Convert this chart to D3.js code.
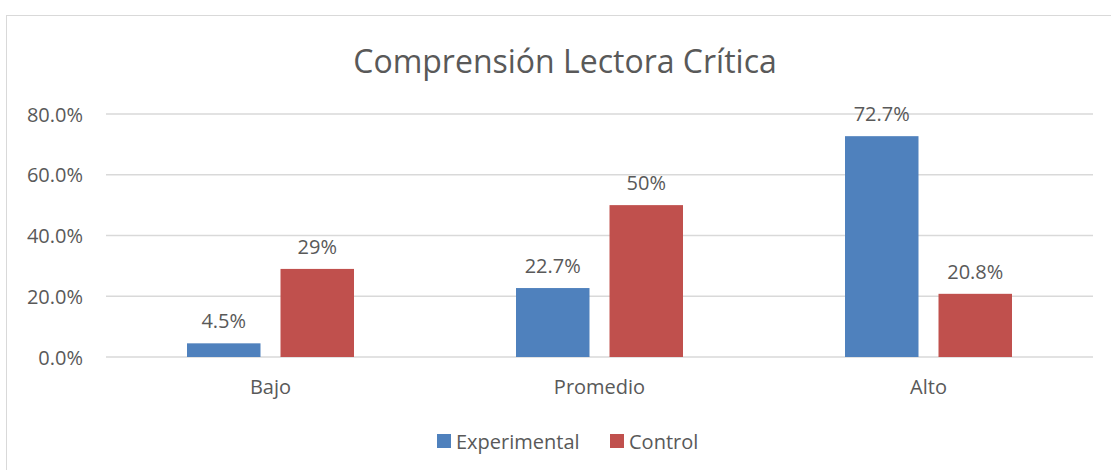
<!DOCTYPE html>
<html>
<head>
<meta charset="utf-8">
<script src="https://cdn.jsdelivr.net/npm/d3@7"></script>
<style>
  body { margin: 0; background: #fff; }
  svg text { font-family: "Open Sans", "Noto Sans", sans-serif; fill: #595959; }
</style>
</head>
<body>
<svg id="chart" width="1111" height="470"></svg>
<script>
var categories = ["Bajo", "Promedio", "Alto"],
    series = ["Experimental", "Control"],
    experimental = [4.5, 22.7, 72.7],
    control = [29, 50, 20.8],
    expLabels = ["4.5%", "22.7%", "72.7%"],
    ctrlLabels = ["29%", "50%", "20.8%"],
    yTicks = [0, 20, 40, 60, 80],
    colors = ["#4F81BD", "#C0504D"];

function draw() {
    var svg = d3.select("#chart"),
        margins = {"left": 106, "right": 18, "top": 114, "bottom": 113},
        width = 1111, height = 470;

    // chart frame
    svg.append("rect").attr("x", 6.5).attr("y", 15.5).attr("width", 1120).attr("height", 470)
        .attr("fill", "none").attr("stroke", "#d9d9d9").attr("stroke-width", 1);

    svg.append("text").attr("x", 565).attr("y", 73).attr("text-anchor", "middle")
        .style("font-size", "32px").text("Comprensión Lectora Crítica");

    var x = d3.scaleBand().domain(categories).range([margins.left, width - margins.right]),
        y = d3.scaleLinear().domain([0, 80]).range([height - margins.bottom, margins.top]);

    var grid = svg.append("g");
    grid.selectAll("line").data(yTicks).enter().append("line")
        .attr("x1", margins.left).attr("x2", width - margins.right)
        .attr("y1", d => y(d)).attr("y2", d => y(d))
        .attr("stroke", "#d9d9d9").attr("stroke-width", 1.5);

    var yAxis = svg.append("g").attr("transform", "translate(" + [83, 0] + ")")
        .call(d3.axisLeft(y).tickValues(yTicks).tickSize(0).tickPadding(0).tickFormat(d => d.toFixed(1) + "%"));
    yAxis.select(".domain").remove();
    yAxis.selectAll("text").style("font-size", "20px").attr("fill", "#595959").attr("dy", "0.35em");

    var xAxis = svg.append("g").attr("transform", "translate(" + [0, y(0)] + ")")
        .call(d3.axisBottom(x).tickSize(0).tickPadding(23));
    xAxis.select(".domain").remove();
    xAxis.selectAll("text").style("font-size", "20px").attr("fill", "#595959");

    var x1 = d3.scaleBand().domain(series).range([0, 167]).paddingInner(0.214),
        off = (x.bandwidth() - 167) / 2;

    var rows = categories.map((c, i) => ({cat: c, vals: [experimental[i], control[i]], labels: [expLabels[i], ctrlLabels[i]]}));

    var groups = svg.selectAll(".grp").data(rows).enter().append("g").classed("grp", true)
        .attr("transform", d => "translate(" + (x(d.cat) + off) + ",0)");

    groups.selectAll("rect").data(d => d.vals.map((v, j) => ({s: series[j], v: v, l: d.labels[j], c: colors[j]})))
        .enter().append("rect")
        .attr("x", d => x1(d.s)).attr("width", x1.bandwidth())
        .attr("y", d => y(d.v)).attr("height", d => y(0) - y(d.v))
        .attr("fill", d => d.c);

    groups.selectAll(".lbl").data(d => d.vals.map((v, j) => ({s: series[j], v: v, l: d.labels[j]})))
        .enter().append("text").classed("lbl", true)
        .attr("x", d => x1(d.s) + x1.bandwidth() / 2).attr("y", d => y(d.v) - 15)
        .attr("text-anchor", "middle").style("font-size", "20px").text(d => d.l);

    // legend
    var leg = svg.append("g");
    var legX = [437, 610];
    series.forEach((s, i) => {
        leg.append("rect").attr("x", legX[i]).attr("y", 434).attr("width", 14).attr("height", 14).attr("fill", colors[i]);
        leg.append("text").attr("x", legX[i] + 19).attr("y", 448.5).style("font-size", "20px").text(s);
    });
}

draw();
</script>
</body>
</html>
